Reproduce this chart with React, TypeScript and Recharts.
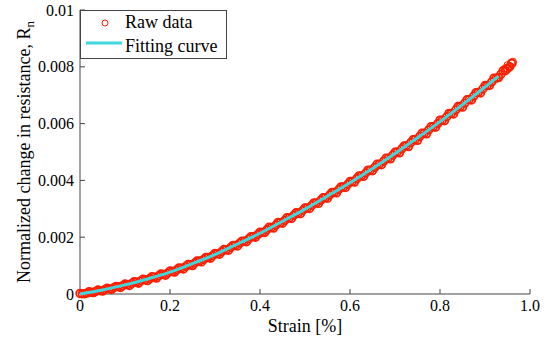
import { ComposedChart, Legend, Line, Scatter, XAxis, YAxis } from 'recharts'

// loading branch (sits a little above the fit)
const rawStrainUp = [
  0, 0.02, 0.04, 0.06, 0.08, 0.1, 0.12, 0.14, 0.16, 0.18, 0.2, 0.22, 0.24, 0.26, 0.28, 0.3, 0.32,
  0.34, 0.36, 0.38, 0.4, 0.42, 0.44, 0.46, 0.48, 0.5, 0.52, 0.54, 0.56, 0.58, 0.6, 0.62, 0.64,
  0.66, 0.68, 0.7, 0.72, 0.74, 0.76, 0.78, 0.8, 0.82, 0.84, 0.86, 0.88, 0.9, 0.92, 0.94, 0.96,
]
const rawResUp = [
  0.00002, 0.00008, 0.00014, 0.0002, 0.00027, 0.00035, 0.00043, 0.00052, 0.00061, 0.00071,
  0.00081, 0.00092, 0.00104, 0.00116, 0.00129, 0.00143, 0.00157, 0.00171, 0.00186, 0.00202,
  0.00218, 0.00235, 0.00252, 0.00269, 0.00286, 0.00303, 0.00321, 0.00339, 0.00358, 0.00377,
  0.00396, 0.00416, 0.00436, 0.00457, 0.00478, 0.00499, 0.00521, 0.00543, 0.00566, 0.00589,
  0.00612, 0.00636, 0.0066, 0.00684, 0.00709, 0.00734, 0.0076, 0.00786, 0.00812,
]

// unloading branch (a little below the fit)
const rawStrainDown = [
  0.01, 0.03, 0.05, 0.07, 0.09, 0.11, 0.13, 0.15, 0.17, 0.19, 0.21, 0.23, 0.25, 0.27, 0.29, 0.31,
  0.33, 0.35, 0.37, 0.39, 0.41, 0.43, 0.45, 0.47, 0.49, 0.51, 0.53, 0.55, 0.57, 0.59, 0.61, 0.63,
  0.65, 0.67, 0.69, 0.71, 0.73, 0.75, 0.77, 0.79, 0.81, 0.83, 0.85, 0.87, 0.89, 0.91, 0.93, 0.95,
]
const rawResDown = [
  0.00001, 0.00005, 0.0001, 0.00016, 0.00023, 0.0003, 0.00038, 0.00047, 0.00056, 0.00066,
  0.00077, 0.00088, 0.001, 0.00113, 0.00126, 0.0014, 0.00154, 0.00169, 0.00184, 0.002,
  0.00216, 0.00232, 0.00249, 0.00266, 0.00283, 0.00301, 0.00319, 0.00337, 0.00356, 0.00375,
  0.00394, 0.00414, 0.00434, 0.00455, 0.00476, 0.00497, 0.00519, 0.00541, 0.00564, 0.00587,
  0.0061, 0.00634, 0.00658, 0.00683, 0.00708, 0.00734, 0.00762, 0.00794,
]

// second cycle, samples in between the others
const rawStrainMid = [
  0.005, 0.015, 0.025, 0.035, 0.045, 0.055, 0.065, 0.075, 0.085, 0.095, 0.105, 0.115, 0.125,
  0.135, 0.145, 0.155, 0.165, 0.175, 0.185, 0.195, 0.205, 0.215, 0.225, 0.235, 0.245, 0.255,
  0.265, 0.275, 0.285, 0.295, 0.305, 0.315, 0.325, 0.335, 0.345, 0.355, 0.365, 0.375, 0.385,
  0.395, 0.405, 0.415, 0.425, 0.435, 0.445, 0.455, 0.465, 0.475, 0.485, 0.495, 0.505, 0.515,
  0.525, 0.535, 0.545, 0.555, 0.565, 0.575, 0.585, 0.595, 0.605, 0.615, 0.625, 0.635, 0.645,
  0.655, 0.665, 0.675, 0.685, 0.695, 0.705, 0.715, 0.725, 0.735, 0.745, 0.755, 0.765, 0.775,
  0.785, 0.795, 0.805, 0.815, 0.825, 0.835, 0.845, 0.855, 0.865, 0.875, 0.885, 0.895, 0.905,
  0.915, 0.925, 0.935, 0.945, 0.955,
]
const rawResMid = [
  0.00001, 0.00003, 0.00006, 0.00009, 0.00012, 0.00015, 0.00018, 0.00022, 0.00026, 0.00029,
  0.00033, 0.00037, 0.00042, 0.00046, 0.0005, 0.00054, 0.00059, 0.00064, 0.00069, 0.00074,
  0.00079, 0.00085, 0.00091, 0.00097, 0.00103, 0.00109, 0.00116, 0.00122, 0.00129, 0.00135,
  0.00142, 0.00149, 0.00156, 0.00164, 0.00171, 0.00179, 0.00186, 0.00194, 0.00202, 0.00209,
  0.00217, 0.00226, 0.00234, 0.00242, 0.00251, 0.00259, 0.00268, 0.00277, 0.00285, 0.00294,
  0.00303, 0.00312, 0.00321, 0.0033, 0.00339, 0.00349, 0.00358, 0.00368, 0.00377, 0.00386,
  0.00396, 0.00406, 0.00416, 0.00426, 0.00436, 0.00446, 0.00457, 0.00468, 0.00478, 0.00489,
  0.005, 0.00511, 0.00522, 0.00533, 0.00544, 0.00555, 0.00566, 0.00578, 0.00589, 0.006,
  0.00612, 0.00624, 0.00636, 0.00648, 0.0066, 0.00672, 0.00685, 0.00697, 0.0071, 0.00722,
  0.00734, 0.00747, 0.0076, 0.00773, 0.00786, 0.008,
]

// scattered points at the very end of the run
const rawStrainTail = [0.945, 0.95, 0.955, 0.958, 0.962]
const rawResTail = [0.00795, 0.00806, 0.00802, 0.00815, 0.00818]

const fitStrain = [
  0, 0.05, 0.1, 0.15, 0.2, 0.25, 0.3, 0.35, 0.4, 0.45, 0.5, 0.55, 0.6, 0.65, 0.7, 0.75, 0.8,
  0.85, 0.9, 0.93,
]
const fitRes = [
  0, 0.00014, 0.00032, 0.00053, 0.00077, 0.00107, 0.00139, 0.00176, 0.00214, 0.00256, 0.00299,
  0.00345, 0.00392, 0.00442, 0.00495, 0.0055, 0.00607, 0.00667, 0.00729, 0.00767,
]

const xTicks = [0, 0.2, 0.4, 0.6, 0.8, 1]
const xTickLabels = ['0', '0.2', '0.4', '0.6', '0.8', '1.0']
const yTicks = [0, 0.002, 0.004, 0.006, 0.008, 0.01]
const yTickLabels = ['0', '0.002', '0.004', '0.006', '0.008', '0.01']

const FONT = '"Liberation Serif", "Times New Roman", serif'
const RED = '#ff1e00'
const CYAN = '#3ed8dc'
const AXIS = '#444'

const rawData = [
  ...rawStrainUp.map((x, i) => ({ x, y: rawResUp[i] })),
  ...rawStrainDown.map((x, i) => ({ x, y: rawResDown[i] })),
  ...rawStrainMid.map((x, i) => ({ x, y: rawResMid[i] })),
]
const tailData = rawStrainTail.map((x, i) => ({ x, y: rawResTail[i] }))
const fitData = fitStrain.map((x, i) => ({ x, y: fitRes[i] }))

const tickStyle = { fontSize: 16, fill: '#000', style: { fontFamily: FONT } }

function DenseCircle(props: any) {
  return <circle cx={props.cx} cy={props.cy} r={3.8} fill="none" stroke={RED} strokeWidth={1.8} />
}

function OpenCircle(props: any) {
  return <circle cx={props.cx} cy={props.cy} r={3.5} fill="none" stroke={RED} strokeWidth={1} />
}

function LegendBox() {
  return (
    <svg width={147} height={49} style={{ display: 'block' }}>
      <rect x={0.5} y={0.5} width={146} height={48} fill="#fff" stroke={AXIS} />
      <circle cx={25} cy={13} r={3} fill="none" stroke={RED} strokeWidth={1} />
      <text x={45} y={18} fontSize={18} style={{ fontFamily: FONT }} fill="#000">
        Raw data
      </text>
      <line x1={6} x2={42} y1={33} y2={33} stroke={CYAN} strokeWidth={3} />
      <text x={45} y={42} fontSize={18} style={{ fontFamily: FONT }} fill="#000">
        Fitting curve
      </text>
    </svg>
  )
}

function YLabel(props: any) {
  const vb = props.viewBox
  const cx = 30
  const cy = vb.y + vb.height / 2
  return (
    <text
      x={cx}
      y={cy}
      transform={`rotate(-90 ${cx} ${cy})`}
      textAnchor="middle"
      fontSize={18}
      style={{ fontFamily: FONT }}
      fill="#000"
    >
      Normalized change in resistance, R
      <tspan dy={4} fontSize={13}>
        n
      </tspan>
    </text>
  )
}

export default function App() {
  return (
    <div style={{ position: 'absolute', left: 0, top: 0, background: '#fff', fontFamily: FONT }}>
      <ComposedChart
        width={548}
        height={338}
        margin={{ top: 10, right: 18, left: 0, bottom: 0 }}
        style={{ fontFamily: FONT }}
      >
        <XAxis
          xAxisId="main"
          dataKey="x"
          type="number"
          domain={[0, 1]}
          ticks={xTicks}
          tickFormatter={(v, i) => xTickLabels[i]}
          height={44}
          tick={tickStyle}
          tickSize={-5}
          tickMargin={11}
          stroke={AXIS}
          label={{
            value: 'Strain [%]',
            position: 'insideBottom',
            offset: 6,
            fontSize: 18,
            fill: '#000',
            style: { fontFamily: FONT },
          }}
        />
        <XAxis
          xAxisId="top"
          orientation="top"
          type="number"
          domain={[0, 1]}
          ticks={xTicks}
          height={0}
          tick={false}
          tickSize={-5}
          stroke={AXIS}
        />
        <YAxis
          yAxisId="main"
          type="number"
          domain={[0, 0.01]}
          ticks={yTicks}
          tickFormatter={(v, i) => yTickLabels[i]}
          width={80}
          tick={tickStyle}
          tickSize={-5}
          tickMargin={11}
          stroke={AXIS}
          label={{ content: YLabel }}
        />
        <YAxis
          yAxisId="right"
          orientation="right"
          type="number"
          domain={[0, 0.01]}
          ticks={yTicks}
          width={0}
          tick={false}
          tickSize={-5}
          stroke={AXIS}
        />
        <Scatter
          name="Raw data"
          xAxisId="main"
          yAxisId="main"
          data={rawData}
          dataKey="y"
          shape={DenseCircle}
          isAnimationActive={false}
        />
        <Scatter
          legendType="none"
          xAxisId="main"
          yAxisId="main"
          data={tailData}
          dataKey="y"
          shape={OpenCircle}
          isAnimationActive={false}
        />
        <Line
          name="Fitting curve"
          xAxisId="main"
          yAxisId="main"
          data={fitData}
          dataKey="y"
          type="monotone"
          stroke={CYAN}
          strokeWidth={3}
          dot={false}
          zIndex={700}
          isAnimationActive={false}
        />
        <Legend
          layout="vertical"
          align="center"
          verticalAlign="middle"
          wrapperStyle={{ left: 80, top: 10, width: 147, height: 49 }}
          content={() => <LegendBox />}
        />
      </ComposedChart>
    </div>
  )
}
